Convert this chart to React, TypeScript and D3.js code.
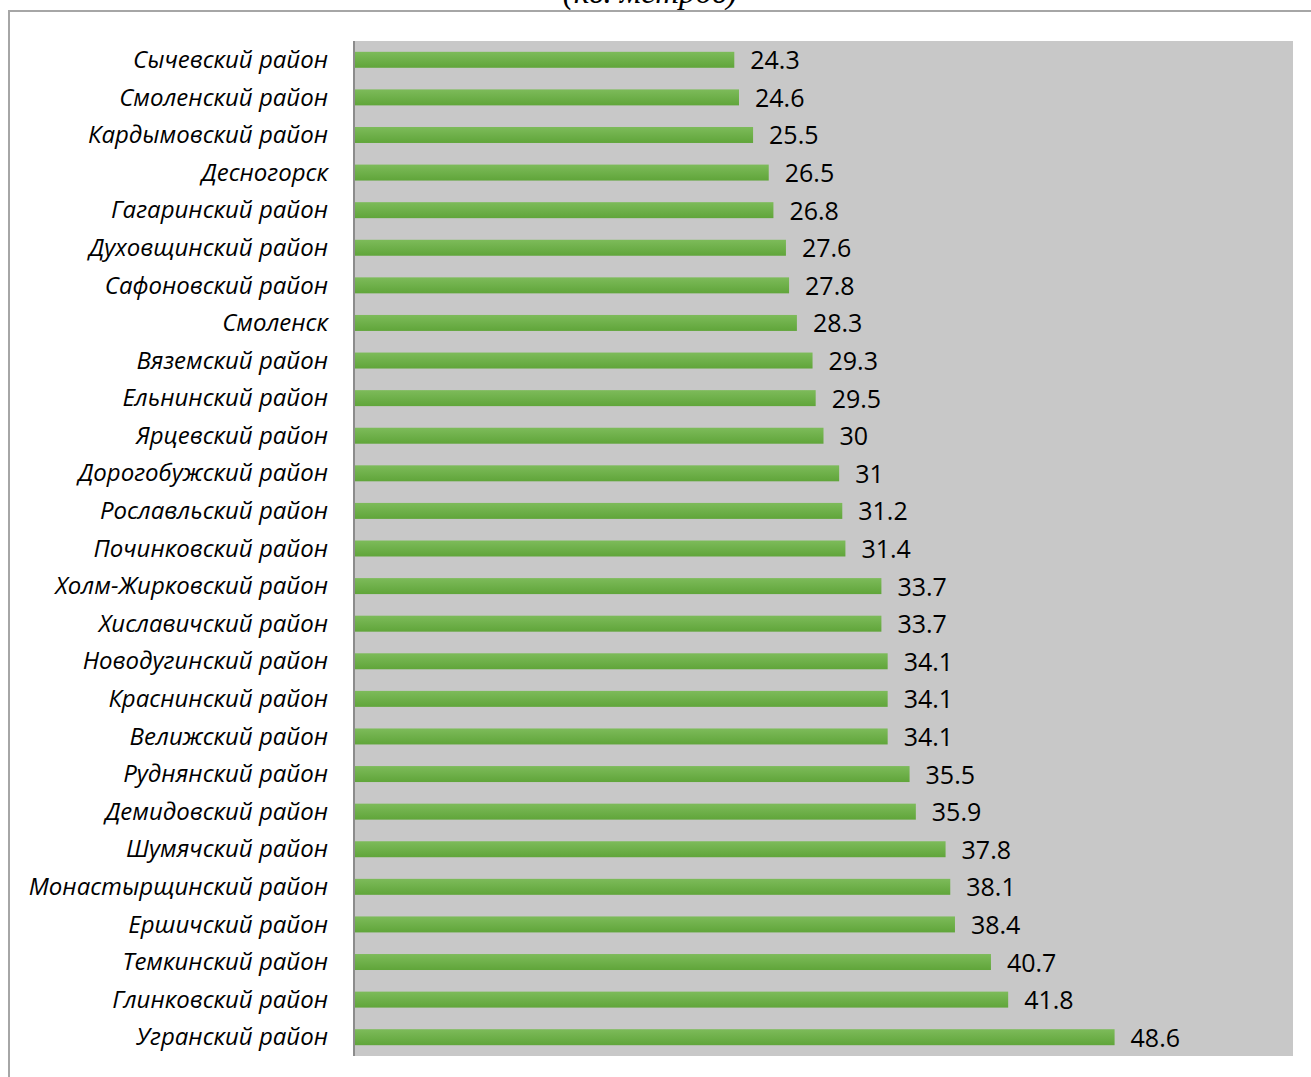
import React from "react";
import * as d3 from "d3";

const categories = [
  "Сычевский район",
  "Смоленский район",
  "Кардымовский район",
  "Десногорск",
  "Гагаринский район",
  "Духовщинский район",
  "Сафоновский район",
  "Смоленск",
  "Вяземский район",
  "Ельнинский район",
  "Ярцевский район",
  "Дорогобужский район",
  "Рославльский район",
  "Починковский район",
  "Холм-Жирковский район",
  "Хиславичский район",
  "Новодугинский район",
  "Краснинский район",
  "Велижский район",
  "Руднянский район",
  "Демидовский район",
  "Шумячский район",
  "Монастырщинский район",
  "Ершичский район",
  "Темкинский район",
  "Глинковский район",
  "Угранский район",
];

const values = [
  24.3, 24.6, 25.5, 26.5, 26.8, 27.6, 27.8, 28.3, 29.3, 29.5, 30, 31, 31.2, 31.4,
  33.7, 33.7, 34.1, 34.1, 34.1, 35.5, 35.9, 37.8, 38.1, 38.4, 40.7, 41.8, 48.6,
];

const valueLabels = values.map((v) => String(v));
const title = "(кв. метров)";

const W = 1311;
const H = 1077;
const plot = { left: 354, right: 1293, top: 41, bottom: 1056 };

export default function App() {
  const x = d3.scaleLinear().domain([0, 60]).range([plot.left, plot.right]);
  const y = d3
    .scaleBand<string>()
    .domain(categories)
    .range([plot.top, plot.bottom])
    .paddingInner(0.575)
    .paddingOuter(0.2875);

  return (
    <svg
      width={W}
      height={H}
      style={{ position: "absolute", left: 0, top: 0, background: "#fff" }}
    >
      <defs>
        <linearGradient id="barGrad" x1="0" y1="0" x2="0" y2="1">
          <stop offset="0" stopColor="#7DBB5A" />
          <stop offset="1" stopColor="#60A53A" />
        </linearGradient>
      </defs>
      <text
        x={650}
        y={3}
        textAnchor="middle"
        fontFamily="'Liberation Serif', 'DejaVu Serif', serif"
        fontStyle="italic"
        fontSize={33}
        fill="#000"
      >
        {title}
      </text>
      {/* frame */}
      <line x1={8} x2={W} y1={11} y2={11} stroke="#A6A6A6" strokeWidth={2} />
      <line x1={9} x2={9} y1={10} y2={H} stroke="#A6A6A6" strokeWidth={2} />
      {/* plot area */}
      <rect
        x={plot.left}
        y={plot.top}
        width={plot.right - plot.left}
        height={plot.bottom - plot.top}
        fill="#C8C8C8"
      />
      {categories.map((c, i) => {
        const yy = y(c)!;
        const bw = y.bandwidth();
        return (
          <g key={c}>
            <rect
              x={x(0)}
              y={yy}
              width={x(values[i]) - x(0)}
              height={bw}
              fill="url(#barGrad)"
            />
            <text
              x={x(values[i]) + 16}
              y={yy + bw / 2}
              dy="0.38em"
              fontFamily="'Open Sans', sans-serif"
              fontSize={25}
              fill="#000"
            >
              {valueLabels[i]}
            </text>
            <text
              x={328}
              y={yy + bw / 2}
              dy="0.34em"
              textAnchor="end"
              fontFamily="'Open Sans', sans-serif"
              fontStyle="italic"
              fontSize={24}
              fill="#000"
            >
              {c}
            </text>
          </g>
        );
      })}
      {/* axis line */}
      <line
        x1={plot.left}
        x2={plot.left}
        y1={plot.top}
        y2={plot.bottom}
        stroke="#8C8C8C"
        strokeWidth={2}
      />
    </svg>
  );
}
